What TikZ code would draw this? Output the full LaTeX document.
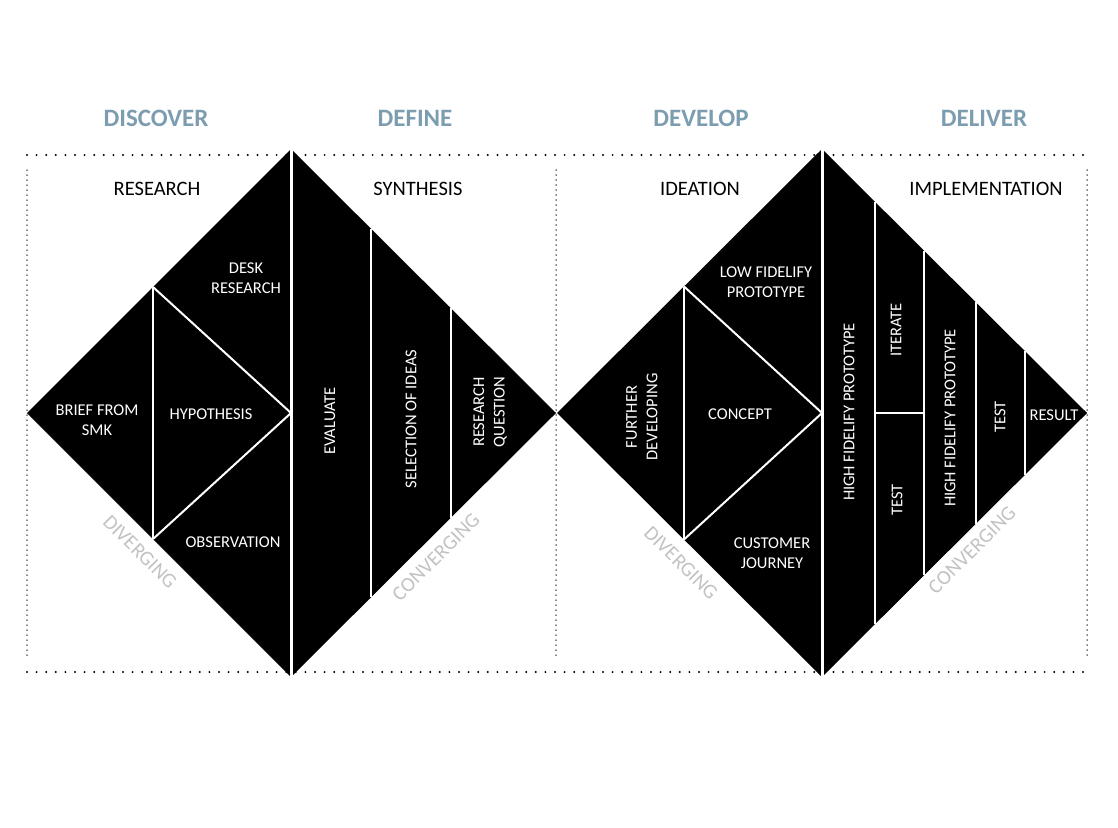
\documentclass[tikz,border=0pt]{standalone}
\usepackage{fontspec}
\setmainfont{Carlito}
\definecolor{headblue}{HTML}{7C9DB0}
\definecolor{lightgrey}{HTML}{C2C2C2}
\begin{document}
\begin{tikzpicture}[x=1pt,y=-1pt,
  heading/.style={font=\fontsize{25}{29}\selectfont\bfseries, text=headblue, inner sep=0pt},
  phase/.style={font=\fontsize{20.5}{24}\selectfont, text=black, inner sep=0pt},
  inlabel/.style={font=\fontsize{16.5}{20.5}\selectfont, text=white, inner sep=0pt, align=center},
  vlabel/.style={inlabel, rotate=90},
  flow/.style={font=\fontsize{20.5}{24}\selectfont, text=lightgrey, inner sep=0pt},
  divider/.style={draw=white, line width=2pt},
  mainsplit/.style={draw=white, line width=3pt},
  hdots/.style={draw=black, line width=2.2pt, line cap=round, dash pattern=on 0pt off 9.6pt},
  vdots/.style={draw=black, line width=1.5pt, line cap=round, dash pattern=on 0pt off 5pt},
  wedge/.style={fill=black}
]
\useasboundingbox (0,0) rectangle (1118,827);

% frame coordinates
\coordinate (fTL) at (27,155);
\coordinate (fTR) at (1087,155);
\coordinate (fBL) at (27,672);
\coordinate (fBR) at (1087,672);
\draw[hdots] (fTL) -- (fTR);
\draw[hdots] (fBL) -- (fBR);
\draw[vdots] (27,170) -- (27,658);
\draw[vdots] (556,170) -- (556,658);
\draw[vdots] (1087,170) -- (1087,658);

% diamonds
\coordinate (L1) at (27,413);
\coordinate (T1) at (291,149);
\coordinate (R1) at (556,413);
\coordinate (B1) at (291,677);
\coordinate (L2) at (557,413);
\coordinate (T2) at (822,149);
\coordinate (R2) at (1087,413);
\coordinate (B2) at (822,677);
\fill[wedge] (L1) -- (T1) -- (R1) -- (B1) -- cycle;
\fill[wedge] (L2) -- (T2) -- (R2) -- (B2) -- cycle;

% diamond 1 dividers
\draw[mainsplit] (T1) -- (B1);
\draw[divider] (153,287) -- (153,539);
\draw[divider] (153,287) -- (291,413) -- (153,539);
\draw[divider] (371,228.7) -- (371,597.3);
\draw[divider] (451,308.4) -- (451,517.6);

% diamond 2 dividers
\draw[mainsplit] (T2) -- (B2);
\draw[divider] (684,286.5) -- (684,539.5);
\draw[divider] (684,286.5) -- (822,413) -- (684,539.5);
\draw[divider] (875,201.8) -- (875,624.2);
\draw[divider] (924,250.6) -- (924,575.4);
\draw[divider] (976,302.4) -- (976,523.6);
\draw[divider] (1025,351.2) -- (1025,474.8);
\draw[divider] (875,413) -- (924,413);

% headings
\node[heading] (hDiscover) at (156,118) {DISCOVER};
\node[heading] (hDefine) at (415,118) {DEFINE};
\node[heading] (hDevelop) at (701,118) {DEVELOP};
\node[heading] (hDeliver) at (984,118) {DELIVER};

% phases
\node[phase] (pResearch) at (157,189) {RESEARCH};
\node[phase] (pSynthesis) at (418,189) {SYNTHESIS};
\node[phase] (pIdeation) at (700,189) {IDEATION};
\node[phase] (pImpl) at (986,189) {IMPLEMENTATION};

% diamond 1 labels
\node[inlabel] (lDesk) at (246,278) {DESK\\RESEARCH};
\node[inlabel] (lBrief) at (97,420) {BRIEF FROM\\SMK};
\node[inlabel] (lHypo) at (211,414) {HYPOTHESIS};
\node[inlabel] (lObs) at (233,542) {OBSERVATION};
\node[vlabel] (lEval) at (330,421) {EVALUATE};
\node[vlabel] (lSel) at (411,419) {SELECTION OF IDEAS};
\node[vlabel] (lRQ) at (490,412) {RESEARCH\\QUESTION};

% diamond 2 labels
\node[vlabel] (lFurther) at (642,417) {FURTHER\\DEVELOPING};
\node[inlabel] (lConcept) at (740,414) {CONCEPT};
\node[inlabel] (lLow) at (766,282) {LOW FIDELIFY\\PROTOTYPE};
\node[inlabel] (lCust) at (772,553) {CUSTOMER\\JOURNEY};
\node[vlabel] (lHigh1) at (849,412) {HIGH FIDELIFY PROTOTYPE};
\node[vlabel] (lIter) at (896,330) {ITERATE};
\node[vlabel] (lTest1) at (897,500) {TEST};
\node[vlabel] (lHigh2) at (950,418) {HIGH FIDELIFY PROTOTYPE};
\node[vlabel] (lTest2) at (1000,417) {TEST};
\node[inlabel] (lResult) at (1054,415) {RESULT};

% flow labels
\node[flow, rotate=-45] (fDiv1) at (140,552) {DIVERGING};
\node[flow, rotate=45] (fConv1) at (436,557) {CONVERGING};
\node[flow, rotate=-45] (fDiv2) at (681,563) {DIVERGING};
\node[flow, rotate=45] (fConv2) at (972,550) {CONVERGING};
\end{tikzpicture}
\end{document}
